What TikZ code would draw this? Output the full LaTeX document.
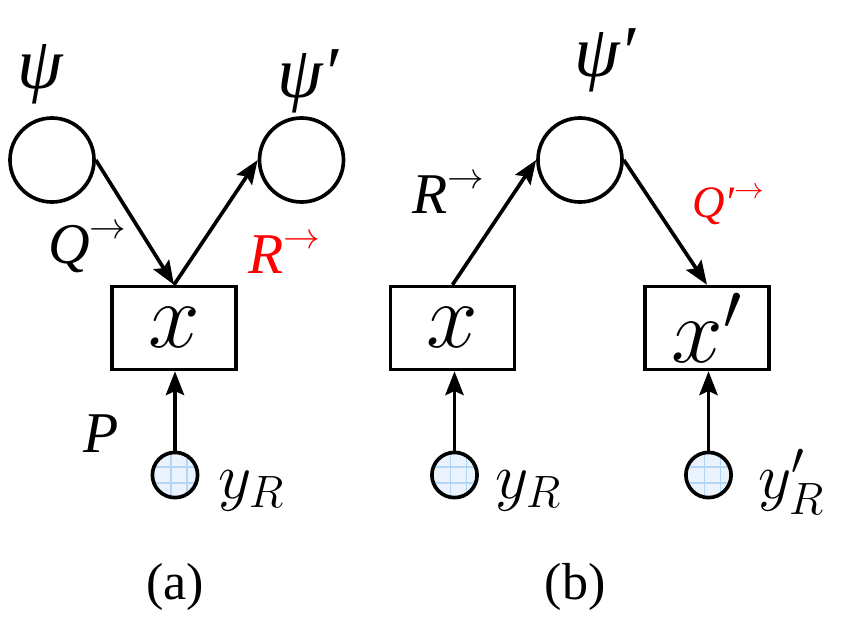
\RequirePackage{fix-cm}
\documentclass[tikz,border=0pt]{standalone}
\usepackage{fontspec}
\setmainfont{Liberation Serif}
\usetikzlibrary{arrows.meta,positioning}
\definecolor{obsfill}{HTML}{EAF3FD}
\definecolor{obsgrid}{HTML}{B3D5F6}
\newcommand{\tosup}[1]{\raisebox{0.42em}{\fontsize{#1}{#1}\selectfont$\rightarrow$}}

\begin{document}
\begin{tikzpicture}[x=0.025cm, y=-0.025cm,
  state/.style={draw, circle, line width=2.6pt, minimum size=2.1cm, inner sep=0pt},
  var/.style={draw, line width=2.6pt, minimum width=3.1cm, minimum height=2.07cm,
              inner sep=0pt, font=\fontsize{66}{66}\selectfont},
  obs/.style={draw, circle, line width=2.6pt, fill=obsfill, minimum size=1.13cm, inner sep=0pt,
              path picture={
                \foreach \d in {-0.1,0.3}
                  \draw[obsgrid, line width=1.3pt]
                    ([xshift=\d cm]path picture bounding box.north) --
                    ([xshift=\d cm]path picture bounding box.south);
                \foreach \d in {0.2,-0.2}
                  \draw[obsgrid, line width=1.3pt]
                    ([yshift=\d cm]path picture bounding box.west) --
                    ([yshift=\d cm]path picture bounding box.east);
              }},
  arr/.style={-{Stealth[length=17pt, width=13pt, inset=3pt]}, line width=2.6pt},
  lbl/.style={inner sep=0pt, font=\fontsize{41}{41}\selectfont\itshape},
  obslbl/.style={inner sep=0pt, font=\fontsize{46}{46}\selectfont},
  greek/.style={inner sep=0pt, font=\fontsize{52}{52}\selectfont\itshape},
  panel/.style={inner sep=0pt, font=\fontsize{37}{37}\selectfont}
]
  \useasboundingbox (0,0) rectangle (841,627);

  % (a)
  \node[state] (psiA) at (52,160) {};
  \node[state] (psipA) at (301.5,160) {};
  \node[var] (xA) at (174,328) {$x$};
  \node[obs] (yA) at (175,475) {};
  \node[greek] (psiAl) at (40,74) {ψ};
  \node[greek] (psipAl) at (308,81) {ψ′};
  \node[lbl, anchor=base west] (qA) at (48,263) {Q\tosup{26}};
  \node[lbl, anchor=base west, text=red] (rA) at (248,273) {R\tosup{26}};
  \node[lbl, anchor=base west] (pA) at (83,452) {P};
  \node[obslbl, anchor=base west] (yAl) at (218,498) {$y_R$};
  \draw[arr] (psiA.east) -- (xA.north);
  \draw[arr] (xA.north) -- (psipA.west);
  \draw[arr] (yA.north) -- (yA.north |- xA.south);
  \node[panel] (capA) at (175,587) {(a)};

  % (b)
  \node[state] (psipB) at (580,160) {};
  \node[var] (xB) at (452.5,328) {$x$};
  \node[var] (xpB) at (707,328) {$x'$};
  \node[obs] (yB) at (454.5,475) {};
  \node[obs] (ypB) at (708.5,475) {};
  \node[greek] (psipBl) at (605,60) {ψ′};
  \node[lbl, anchor=base west] (rB) at (412,213) {R\tosup{26}};
  \node[lbl, anchor=base west, text=red, font=\fontsize{32}{32}\selectfont\itshape] (qB) at (692,217) {Q′\tosup{21}};
  \node[obslbl, anchor=base west] (yBl) at (495,498) {$y_R$};
  \node[obslbl, anchor=base west] (ypBl) at (758,498) {$y'_R$};
  \draw[arr] (xB.north) -- (psipB.west);
  \draw[arr] (psipB.east) -- (xpB.north);
  \draw[arr] (yB.north) -- (yB.north |- xB.south);
  \draw[arr] (ypB.north) -- (ypB.north |- xpB.south);
  \node[panel] (capB) at (575,587) {(b)};
\end{tikzpicture}
\end{document}
